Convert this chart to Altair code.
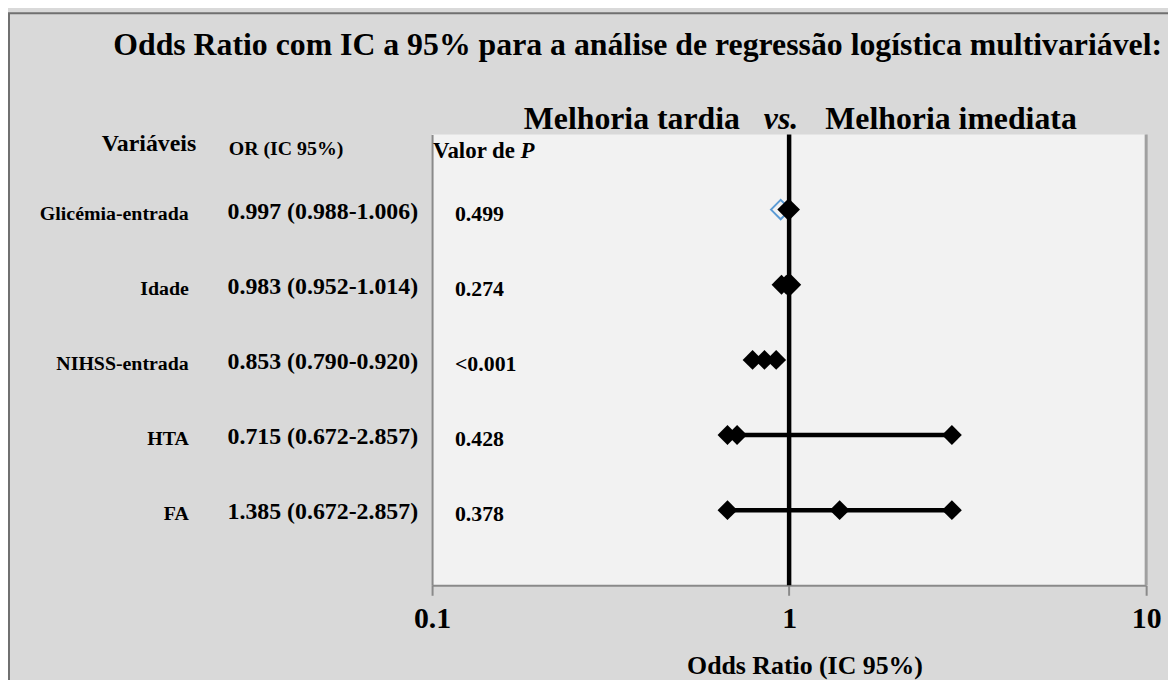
import altair as alt
import pandas as pd

# ---- data ----
variables = ["Glicémia-entrada", "Idade", "NIHSS-entrada", "HTA", "FA"]
rows = [5, 4, 3, 2, 1]
or_vals = [0.997, 0.983, 0.853, 0.715, 1.385]
ci_low = [0.988, 0.952, 0.790, 0.672, 0.672]
ci_high = [1.006, 1.014, 0.920, 2.857, 2.857]
p_values = ["0.499", "0.274", "<0.001", "0.428", "0.378"]
extra_x = [0.947]   # hollow blue marker on the first row
extra_row = [5]

title_text = "Odds Ratio com IC a 95% para a análise de regressão logística multivariável:"
sub_left = "Melhoria tardia"
sub_mid = "vs."
sub_right = "Melhoria imediata"
x_title = "Odds Ratio  (IC 95%)"
x_ticks = [0.1, 1, 10]

FONT = "Liberation Serif"

table = pd.DataFrame({
    "variable": variables,
    "row": rows,
    "or": or_vals,
    "lo": ci_low,
    "hi": ci_high,
    "p": p_values,
})
table["or_text"] = [f"{o:.3f} ({l:.3f}-{h:.3f})" for o, l, h in zip(or_vals, ci_low, ci_high)]

points = pd.DataFrame({
    "row": rows * 3,
    "value": ci_low + or_vals + ci_high,
})
extra = pd.DataFrame({"row": extra_row, "value": extra_x})

xscale = alt.Scale(type="log", domain=[0.1, 10], nice=False)
yscale = alt.Scale(domain=[0, 6], nice=False, zero=False)

xaxis = alt.Axis(
    values=x_ticks, format="~g", grid=False,
    tickColor="#8a8a8a", tickWidth=2, tickSize=10,
    domainColor="#8a8a8a", domainWidth=2,
    labelFont=FONT, labelFontWeight="bold", labelFontSize=30, labelColor="black",
    labelPadding=8, labelFlush=False, labelOverlap=False,
    titleFont=FONT, titleFontWeight="bold", titleFontSize=26, titleColor="black",
    titleX=375, titleY=81, titleBaseline="middle",
)
yaxis = alt.Axis(labels=False, ticks=False, grid=False, title=None,
                 domainColor="#8a8a8a", domainWidth=2)

base = alt.Chart(table)

ref_line = alt.Chart(pd.DataFrame({"v": [1]})).mark_rule(color="black", strokeWidth=4.5).encode(
    x=alt.X("v:Q", scale=xscale, axis=xaxis, title=x_title)
)
right_edge = alt.Chart(pd.DataFrame({"v": [10]})).mark_rule(color="#a0a0a0", strokeWidth=3).encode(
    x=alt.X("v:Q", scale=xscale)
)

ci_rules = base.mark_rule(color="black", strokeWidth=4.5).encode(
    x=alt.X("lo:Q", scale=xscale),
    x2="hi:Q",
    y=alt.Y("row:Q", scale=yscale, axis=yaxis),
)

blue_pts = alt.Chart(extra).mark_point(
    shape="diamond", filled=False, size=380, color="#5b9bd5", strokeWidth=2, opacity=1
).encode(
    x=alt.X("value:Q", scale=xscale),
    y=alt.Y("row:Q", scale=yscale),
)

black_pts = alt.Chart(points).mark_point(
    shape="diamond", filled=True, size=400, color="black", opacity=1
).encode(
    x=alt.X("value:Q", scale=xscale),
    y=alt.Y("row:Q", scale=yscale),
)

label_txt = base.mark_text(font=FONT, fontWeight="bold", fontSize=20, align="right",
                           baseline="middle", dy=4, color="black").encode(
    x=alt.value(-245), y=alt.Y("row:Q", scale=yscale), text="variable:N")
or_txt = base.mark_text(font=FONT, fontWeight="bold", fontSize=24, align="center",
                        baseline="middle", dy=2, color="black").encode(
    x=alt.value(-110), y=alt.Y("row:Q", scale=yscale), text="or_text:N")
p_txt = base.mark_text(font=FONT, fontWeight="bold", fontSize=22, align="left",
                       baseline="middle", dy=4, color="black").encode(
    x=alt.value(23), y=alt.Y("row:Q", scale=yscale), text="p:N")


def note(text, x, y, size, align="center", style="normal"):
    return alt.Chart(pd.DataFrame({"t": [text]})).mark_text(
        font=FONT, fontWeight="bold", fontSize=size, align=align, baseline="middle",
        fontStyle=style, color="black"
    ).encode(x=alt.value(x), y=alt.value(y), text="t:N")


annotations = [
    note(title_text, 207, -90, 32),
    note(sub_left, 310, -15, 32, align="right"),
    note(sub_mid, 334, -15, 32, align="left", style="italic"),
    note(sub_right, 396, -15, 32, align="left"),
    note("Variáveis", -285, 10, 24),
    note("OR (IC 95%)", -147, 15, 20),
    note("Valor de", 1, 17, 23, align="left"),
    note("P", 89, 17, 23, align="left", style="italic"),
]

frame = alt.Chart(pd.DataFrame({"a": [0]})).mark_rect(
    filled=False, stroke="#707070", strokeWidth=2
).encode(x=alt.value(-426), x2=alt.value(760), y=alt.value(-122), y2=alt.value(560))

chart = alt.layer(
    frame, right_edge, ref_line, ci_rules, blue_pts, black_pts,
    label_txt, or_txt, p_txt, *annotations
).properties(
    width=719, height=454,
    padding={"left": 427, "top": 125, "right": 22, "bottom": 93},
    autosize=alt.AutoSizeParams(type="none"),
).configure(background="#d9d9d9").configure_view(fill="#f2f2f2", strokeWidth=0)

chart.save("out.html", embed_options={"renderer": "svg", "actions": False})
